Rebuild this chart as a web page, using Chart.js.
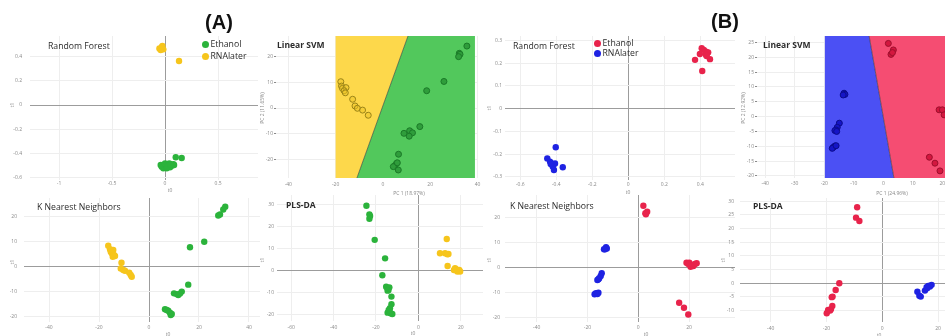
<!DOCTYPE html>
<html>
<head>
<meta charset="utf-8">
<script src="https://cdn.jsdelivr.net/npm/chart.js@4/dist/chart.umd.min.js"></script>
<style>
  html, body { margin: 0; padding: 0; background: #fff; overflow: hidden; width: 945px; height: 336px; }
  #fig { position: relative; width: 945px; height: 336px; overflow: hidden; font-family: 'Open Sans', 'DejaVu Sans', sans-serif; }
  #fig canvas { position: absolute; }
  .t { position: absolute; white-space: nowrap; line-height: 1; color: #2b2b2b; }
  .dot { position: absolute; border-radius: 50%; }
</style>
</head>
<body>
<div id="fig"></div>
<script>
// ---------- (A) Ethanol vs RNAlater ----------
// Random Forest scores
const rfA_ethanol_x  = [-0.031, 0.006, 0.031, 0.063, 0.079, 0.047, -0.016, 0.016, 0.101, 0.157, -0.041, 0.0, 0.04, 0.085, 0.02, 0.055];
const rfA_ethanol_y  = [-0.507, -0.502, -0.494, -0.5, -0.486, -0.513, -0.521, -0.521, -0.43, -0.436, -0.494, -0.481, -0.481, -0.494, -0.51, -0.49];
const rfA_rnalater_x = [-0.053, -0.031, -0.016, -0.041, -0.025, 0.132];
const rfA_rnalater_y = [0.466, 0.475, 0.458, 0.453, 0.486, 0.362];

// Linear SVM (PC1 / PC2)
const svmA_rnalater_x = [-17.8, -17.5, -17.1, -15.6, -16.4, -15.9, -12.8, -11.8, -10.8, -8.6, -6.2];
const svmA_rnalater_y = [10.2, 8.5, 7.6, 7.9, 6.7, 5.9, 3.4, 0.8, -0.1, -0.8, -2.8];
const svmA_ethanol_x  = [35.5, 32.3, 32.6, 32.0, 25.8, 18.5, 15.6, 11.3, 12.5, 8.9, 11.1, 6.6, 5.1, 5.8, 4.4, 6.5, 6.1];
const svmA_ethanol_y  = [24.0, 21.2, 20.8, 19.9, 10.3, 6.7, -7.2, -8.8, -9.6, -9.8, -10.9, -17.9, -22.3, -21.4, -22.7, -24.0, -21.2];
// decision surface extent and boundary (x at top / bottom edge)
const svmA_surface_x = [-20, 38.9];
const svmA_surface_y = [-27.1, 27.9];
const svmA_boundary_x = [10.6, -11.0];

// K nearest neighbours
const knnA_rnalater_x = [-16.3, -15.6, -15.3, -14.9, -14.3, -14.0, -13.6, -14.5, -11.0, -11.3, -10.3, -9.6, -7.9, -7.3, -6.9];
const knnA_rnalater_y = [8.4, 7.0, 6.0, 5.4, 6.7, 4.7, 4.3, 4.0, 1.6, -0.7, -1.3, -1.6, -2.4, -3.3, -4.0];
const knnA_ethanol_x  = [30.5, 29.7, 28.4, 27.7, 22.1, 16.4, 15.7, 13.1, 10.0, 11.1, 11.7, 12.4, 6.4, 7.7, 8.4, 8.7, 7.1, 9.1];
const knnA_ethanol_y  = [24.1, 23.0, 21.0, 20.6, 10.0, 7.8, -7.2, -10.0, -10.7, -11.0, -11.4, -10.8, -17.1, -17.7, -18.5, -19.4, -17.4, -19.0];

// PLS-DA
const plsA_ethanol_x  = [-24.5, -23.1, -22.8, -23.1, -20.6, -15.7, -17.0, -15.2, -14.6, -14.1, -13.7, -14.5, -12.7, -12.7, -13.4, -13.7, -13.1, -14.5, -12.3, -14.0];
const plsA_ethanol_y  = [29.5, 25.6, 24.9, 23.6, 14.0, 5.6, -2.1, -7.3, -8.0, -8.8, -7.6, -9.1, -11.8, -15.3, -17.1, -18.6, -19.4, -19.1, -19.7, -17.9];
const plsA_rnalater_x = [13.4, 10.2, 12.6, 13.7, 14.2, 13.8, 17.3, 18.1, 18.9, 19.7, 18.4, 17.8, 16.8, 19.3];
const plsA_rnalater_y = [14.4, 7.9, 7.9, 7.4, 7.6, 2.1, 1.1, 0.3, -0.1, -0.4, -0.4, 0.6, 0.3, 0.3];

// ---------- (B) ----------
const rfB_ethanol_x  = [0.408, 0.42, 0.432, 0.439, 0.444, 0.432, 0.398, 0.454, 0.371, 0.411, 0.435];
const rfB_ethanol_y  = [0.266, 0.259, 0.251, 0.244, 0.248, 0.237, 0.241, 0.218, 0.215, 0.166, 0.232];
const rfB_rnalater_x = [-0.403, -0.45, -0.435, -0.426, -0.417, -0.407, -0.413, -0.42, -0.364, -0.431];
const rfB_rnalater_y = [-0.17, -0.219, -0.233, -0.241, -0.248, -0.241, -0.27, -0.255, -0.258, -0.244];

const svmB_ethanol_x  = [1.7, 3.4, 2.6, 3.1, 18.9, 20.0, 20.6, 15.6, 17.5, 19.2];
const svmB_ethanol_y  = [24.7, 22.5, 21.0, 21.6, 2.3, 2.3, 0.6, -13.7, -15.7, -18.3];
const svmB_rnalater_x = [-13.3, -13.0, -13.6, -14.9, -15.6, -16.0, -16.4, -15.8, -16.4, -16.9, -17.3, -16.0];
const svmB_rnalater_y = [7.9, 7.5, 7.3, -2.2, -3.6, -4.5, -4.7, -5.0, -9.9, -10.3, -10.7, -9.8];
const svmB_surface_x = [-19.8, 22];
const svmB_surface_y = [-20.7, 27.2];
const svmB_boundary_x = [-4.8, 3.6];

const knnB_ethanol_x  = [2.0, 3.5, 3.0, 2.8, 19.0, 20.1, 21.0, 20.6, 21.7, 22.3, 23.0, 19.7, 16.1, 18.0, 19.7];
const knnB_ethanol_y  = [24.8, 22.4, 21.4, 21.8, 2.0, 2.0, 1.1, 0.4, 0.7, 1.5, 1.8, 1.5, -14.0, -16.0, -18.7];
const knnB_rnalater_x = [-12.7, -13.1, -12.4, -13.5, -14.4, -14.8, -15.7, -16.1, -15.4, -16.7, -17.2, -15.7, -16.1];
const knnB_rnalater_y = [8.2, 7.4, 7.7, 7.4, -2.2, -3.3, -4.6, -4.9, -4.2, -10.2, -10.6, -10.0, -10.5];

const plsB_ethanol_x  = [-9.0, -9.4, -8.2, -15.4, -16.7, -17.8, -18.1, -17.9, -18.4, -19.4, -19.9, -18.7];
const plsB_ethanol_y  = [27.8, 24.0, 22.8, 0.0, -2.5, -4.9, -5.1, -8.3, -9.5, -9.8, -11.0, -10.0];
const plsB_rnalater_x = [12.6, 13.3, 13.8, 15.3, 15.9, 16.5, 17.1, 17.7, 16.8, 16.1];
const plsB_rnalater_y = [-3.1, -4.6, -4.9, -2.7, -1.5, -1.0, -1.2, -0.6, -1.0, -1.8];

// tick values
const ticksRF_A_x = [-1, -0.5, 0, 0.5];
const ticksRF_A_y = [-0.6, -0.4, -0.2, 0, 0.2, 0.4];
const ticksSVM_A_x = [-40, -20, 0, 20, 40];
const ticksSVM_A_y = [-20, -10, 0, 10, 20];
const ticksKNN_A_x = [-40, -20, 0, 20, 40];
const ticksKNN_A_y = [-20, -10, 0, 10, 20];
const ticksPLS_A_x = [-60, -40, -20, 0, 20];
const ticksPLS_A_y = [-20, -10, 0, 10, 20, 30];
const ticksRF_B_x = [-0.6, -0.4, -0.2, 0, 0.2, 0.4];
const ticksRF_B_y = [-0.3, -0.2, -0.1, 0, 0.1, 0.2, 0.3];
const ticksSVM_B_x = [-40, -30, -20, -10, 0, 10, 20];
const ticksSVM_B_y = [-20, -15, -10, -5, 0, 5, 10, 15, 20, 25];
const ticksKNN_B_x = [-40, -20, 0, 20];
const ticksKNN_B_y = [-20, -10, 0, 10, 20];
const ticksPLS_B_x = [-40, -20, 0, 20];
const ticksPLS_B_y = [-10, -5, 0, 5, 10, 15, 20, 25, 30];

// ---------- styling ----------
const GREEN = '#2bb33b', YELLOW = '#f6c51c', RED = '#e8234b', BLUE = '#1e22e2';
const GRID = '#eeeeee', ZERO = '#9c9c9c', TICK = '#8a8a8a';
const tickFont = { family: "'Open Sans', 'DejaVu Sans', sans-serif", size: 5 };

const fig = document.getElementById('fig');

function pts(xs, ys) { return xs.map((v, i) => ({ x: v, y: ys[i] })); }

function surfacePlugin(sf) {
  return {
    id: 'surface',
    beforeDatasetsDraw(chart) {
      if (!sf) return;
      const { ctx, chartArea: a, scales: { x, y } } = chart;
      const X = v => x.getPixelForValue(v), Y = v => y.getPixelForValue(v);
      const [x0, x1] = sf.xs, [y0, y1] = sf.ys, [bt, bb] = sf.bx;
      ctx.save();
      ctx.beginPath(); ctx.rect(a.left, a.top, a.width, a.height); ctx.clip();
      const poly = (list, col) => {
        ctx.beginPath();
        list.forEach(([vx, vy], i) => i ? ctx.lineTo(X(vx), Y(vy)) : ctx.moveTo(X(vx), Y(vy)));
        ctx.closePath(); ctx.fillStyle = col; ctx.fill();
      };
      poly([[x0, y0], [x0, y1], [bt, y1], [bb, y0]], sf.left);
      poly([[bb, y0], [bt, y1], [x1, y1], [x1, y0]], sf.right);
      ctx.beginPath(); ctx.moveTo(X(bt), Y(y1)); ctx.lineTo(X(bb), Y(y0));
      ctx.strokeStyle = 'rgba(45,45,45,0.55)'; ctx.lineWidth = 1; ctx.stroke();
      ctx.restore();
    }
  };
}

function panel(p) {
  const Wy = 26, Hx = 14, padT = 4, padR = 6;
  const w = Wy + (p.r - p.l) + padR, h = padT + (p.b - p.t) + Hx;
  const cv = document.createElement('canvas');
  cv.width = w; cv.height = h;
  cv.style.left = (p.l - Wy) + 'px'; cv.style.top = (p.t - padT) + 'px';
  cv.style.width = w + 'px'; cv.style.height = h + 'px';
  fig.appendChild(cv);
  const gridColor = c => (p.zero && c.tick && c.tick.value === 0) ? ZERO : GRID;
  new Chart(cv, {
    type: 'scatter',
    data: {
      datasets: p.sets.map(s => ({
        data: pts(s.x, s.y),
        backgroundColor: s.fill, borderColor: s.edge || s.fill,
        borderWidth: s.bw || 0, pointRadius: s.r || 3.2, pointHoverRadius: s.r || 3.2
      }))
    },
    options: {
      responsive: false, animation: false, devicePixelRatio: 1, events: [],
      layout: { padding: { left: 0, right: padR, top: padT, bottom: 0 }, autoPadding: false },
      plugins: { legend: { display: false }, tooltip: { enabled: false } },
      scales: {
        x: {
          type: 'linear', min: p.xr[0], max: p.xr[1],
          afterFit(s) { s.height = Hx; s.paddingLeft = 0; s.paddingRight = 0; },
          afterBuildTicks(s) { s.ticks = p.xt.map(v => ({ value: v })); },
          grid: { color: gridColor, lineWidth: 1, drawTicks: false },
          border: { display: false },
          ticks: { font: tickFont, color: TICK, padding: p.xpad, maxRotation: 0, autoSkip: false, callback: v => String(v) }
        },
        y: {
          type: 'linear', min: p.yr[0], max: p.yr[1],
          afterFit(s) { s.width = Wy; s.paddingTop = 0; s.paddingBottom = 0; },
          afterBuildTicks(s) { s.ticks = p.yt.map(v => ({ value: v })); },
          grid: { color: gridColor, lineWidth: 1, drawTicks: !!p.marks, tickLength: 2, tickColor: TICK },
          border: { display: false },
          ticks: { font: tickFont, color: TICK, padding: p.ypad, autoSkip: false, callback: v => String(v) }
        }
      }
    },
    plugins: [surfacePlugin(p.surface)]
  });
}

// (A) panels
panel({ l: 30, r: 258, t: 36, b: 180, xr: [-1.274, 0.877], yr: [-0.617, 0.568],
  xt: ticksRF_A_x, yt: ticksRF_A_y, zero: true, xpad: 1, ypad: 8,
  sets: [{ x: rfA_ethanol_x, y: rfA_ethanol_y, fill: GREEN }, { x: rfA_rnalater_x, y: rfA_rnalater_y, fill: YELLOW }] });

panel({ l: 276, r: 478, t: 36, b: 178, xr: [-45.2, 40.2], yr: [-27.1, 27.9],
  xt: ticksSVM_A_x, yt: ticksSVM_A_y, zero: false, marks: true, xpad: 4, ypad: 1,
  surface: { xs: svmA_surface_x, ys: svmA_surface_y, bx: svmA_boundary_x, left: '#fdd84b', right: '#52c85c' },
  sets: [{ x: svmA_rnalater_x, y: svmA_rnalater_y, fill: 'rgba(236,196,40,0.55)', edge: '#9b8418', bw: 1, r: 3 },
         { x: svmA_ethanol_x, y: svmA_ethanol_y, fill: '#2f9d3b', edge: '#1b7a28', bw: 1, r: 3 }] });

panel({ l: 24, r: 260, t: 198, b: 322, xr: [-50, 44.4], yr: [-22.2, 27.6],
  xt: ticksKNN_A_x, yt: ticksKNN_A_y, zero: true, xpad: 2.5, ypad: 7,
  sets: [{ x: knnA_rnalater_x, y: knnA_rnalater_y, fill: YELLOW }, { x: knnA_ethanol_x, y: knnA_ethanol_y, fill: GREEN }] });

panel({ l: 277, r: 483, t: 195, b: 321, xr: [-66.7, 30.5], yr: [-22.9, 34.4],
  xt: ticksPLS_A_x, yt: ticksPLS_A_y, zero: true, xpad: 3.5, ypad: 3,
  sets: [{ x: plsA_ethanol_x, y: plsA_ethanol_y, fill: GREEN }, { x: plsA_rnalater_x, y: plsA_rnalater_y, fill: YELLOW }] });

// (B) panels
panel({ l: 505, r: 735, t: 36, b: 180, xr: [-0.685, 0.593], yr: [-0.314, 0.32],
  xt: ticksRF_B_x, yt: ticksRF_B_y, zero: true, xpad: 1.5, ypad: 3,
  sets: [{ x: rfB_ethanol_x, y: rfB_ethanol_y, fill: RED }, { x: rfB_rnalater_x, y: rfB_rnalater_y, fill: BLUE }] });

panel({ l: 757, r: 945, t: 36, b: 178, xr: [-42.8, 20.9], yr: [-20.7, 27.2],
  xt: ticksSVM_B_x, yt: ticksSVM_B_y, zero: false, marks: true, xpad: 3, ypad: 1,
  surface: { xs: svmB_surface_x, ys: svmB_surface_y, bx: svmB_boundary_x, left: '#4b50f4', right: '#f54d72' },
  sets: [{ x: svmB_ethanol_x, y: svmB_ethanol_y, fill: '#d3173f', edge: '#9e0f2d', bw: 1, r: 3 },
         { x: svmB_rnalater_x, y: svmB_rnalater_y, fill: '#1515c6', edge: '#0b0b8c', bw: 1, r: 3 }] });

panel({ l: 505, r: 735, t: 195, b: 322, xr: [-52.5, 38.1], yr: [-21.7, 29.1],
  xt: ticksKNN_B_x, yt: ticksKNN_B_y, zero: true, xpad: 2.5, ypad: 5,
  sets: [{ x: knnB_ethanol_x, y: knnB_ethanol_y, fill: RED }, { x: knnB_rnalater_x, y: knnB_rnalater_y, fill: BLUE }] });

panel({ l: 740, r: 945, t: 198, b: 322, xr: [-51, 22.5], yr: [-14.2, 31.2],
  xt: ticksPLS_B_x, yt: ticksPLS_B_y, zero: true, xpad: 3.5, ypad: 6,
  sets: [{ x: plsB_ethanol_x, y: plsB_ethanol_y, fill: RED }, { x: plsB_rnalater_x, y: plsB_rnalater_y, fill: BLUE }] });

// ---------- text ----------
function text(str, x, y, css, anchor) {
  const s = document.createElement('div');
  s.className = 't'; s.textContent = str;
  s.style.left = x + 'px'; s.style.top = y + 'px';
  let tr = anchor === 'center' ? 'translate(-50%,-50%)' : 'translate(0,-50%)';
  if (css.rotate) tr += ' rotate(-90deg)';
  s.style.transform = tr;
  Object.assign(s.style, css.style || {});
  fig.appendChild(s);
}
function dot(x, y, col) {
  const d = document.createElement('div');
  d.className = 'dot';
  Object.assign(d.style, { left: (x - 3.5) + 'px', top: (y - 3.5) + 'px', width: '7px', height: '7px', background: col });
  fig.appendChild(d);
}

const big = { style: { font: "bold 20px 'Liberation Sans', Arial, sans-serif", color: '#111' } };
text('(A)', 219, 22, big, 'center');
text('(B)', 725, 21, big, 'center');

const ttl = { style: { fontSize: '8.7px', color: '#2b2b2b' } };
const ttlB = { style: { fontSize: '8.5px', fontWeight: '700', color: '#2b2b2b' } };
text('Random Forest', 48, 46, ttl);
text('Linear SVM', 277, 45, ttlB);
text('K Nearest Neighbors', 37, 207, ttl);
text('PLS-DA', 286, 205, ttlB);
text('Random Forest', 513, 46, ttl);
text('Linear SVM', 763, 45, ttlB);
text('K Nearest Neighbors', 510, 206, ttl);
text('PLS-DA', 753, 206, ttlB);

// legends
dot(205, 44, GREEN); text('Ethanol', 210.5, 44, ttl);
dot(205, 56, YELLOW); text('RNAlater', 210.5, 56, ttl);
dot(597, 43, RED); text('Ethanol', 602.5, 43, ttl);
dot(597, 53, BLUE); text('RNAlater', 602.5, 53, ttl);

// axis titles
const ax = { style: { fontSize: '5px', color: '#888' } };
const axr = { rotate: true, style: { fontSize: '5px', color: '#888' } };
text('t0', 170, 190, ax, 'center');   text('t1', 12, 105, axr, 'center');
text('PC 1 (18.97%)', 409, 193, ax, 'center'); text('PC 2 (11.65%)', 262, 108, axr, 'center');
text('t0', 168, 334, ax, 'center');   text('t1', 12, 262, axr, 'center');
text('t0', 413, 333, ax, 'center');   text('t1', 262, 260, axr, 'center');
text('t0', 628, 192, ax, 'center');   text('t1', 489, 108, axr, 'center');
text('PC 1 (24.96%)', 892, 193, ax, 'center'); text('PC 2 (12.92%)', 743, 108, axr, 'center');
text('t0', 646, 334, ax, 'center');   text('t1', 489, 260, axr, 'center');
text('t0', 879, 335, ax, 'center');   text('t1', 723, 260, axr, 'center');
</script>
</body>
</html>
